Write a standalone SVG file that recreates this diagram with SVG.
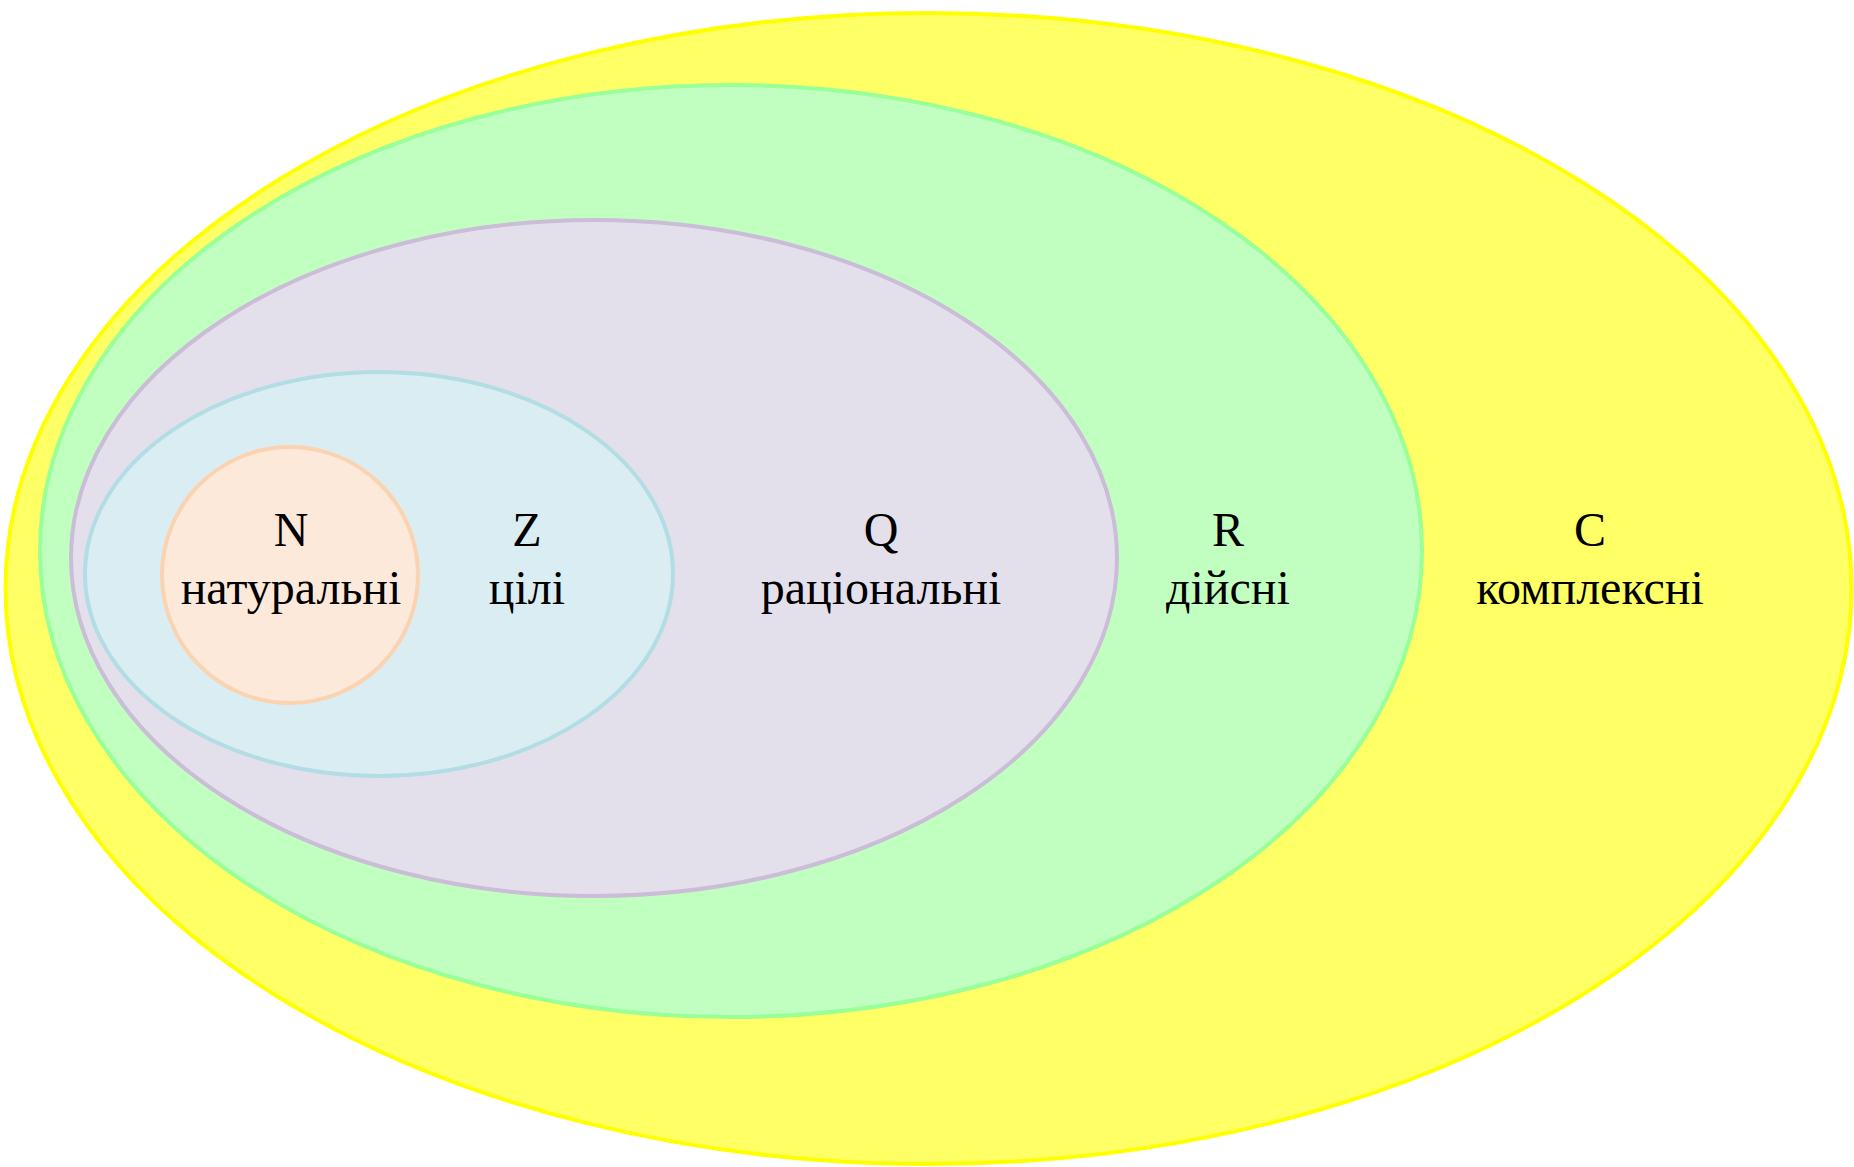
<svg xmlns="http://www.w3.org/2000/svg" width="1854" height="1167" viewBox="0 0 1854 1167">
  <style>
    .set { stroke-width: 4; }
    .label { font-family: "Liberation Serif", "Times New Roman", serif; font-size: 48px; fill: #000; text-anchor: middle; }
  </style>
  <rect width="1854" height="1167" fill="#ffffff"/>

  <!-- Complex numbers -->
  <g id="C">
    <ellipse class="set" cx="928.5" cy="588.5" rx="923" ry="575.5" fill="#ffff66" stroke="#ffff00" stroke-width="5"/>
    <text class="label" x="1590" y="546">C</text>
    <text class="label" x="1590" y="604">комплексні</text>
  </g>

  <!-- Real numbers -->
  <g id="R">
    <ellipse class="set" cx="731" cy="551" rx="691" ry="466" fill="#c0ffc0" stroke="#99ff99"/>
    <text class="label" x="1228" y="546">R</text>
    <text class="label" x="1228" y="604">дійсні</text>
  </g>

  <!-- Rational numbers -->
  <g id="Q">
    <ellipse class="set" cx="594" cy="558" rx="523" ry="338" fill="#e3dfeb" stroke="#cbbcd8"/>
    <text class="label" x="881" y="546">Q</text>
    <text class="label" x="881" y="604">раціональні</text>
  </g>

  <!-- Integers -->
  <g id="Z">
    <ellipse class="set" cx="379" cy="574" rx="294" ry="202" fill="#daedf2" stroke="#b3dde5"/>
    <text class="label" x="527" y="546">Z</text>
    <text class="label" x="527" y="604">цілі</text>
  </g>

  <!-- Natural numbers -->
  <g id="N">
    <circle class="set" cx="290" cy="575" r="128" fill="#fce9da" stroke="#fbd3b0"/>
    <text class="label" x="291" y="546">N</text>
    <text class="label" x="291" y="604">натуральні</text>
  </g>

  <g id="connectors"></g>
</svg>
